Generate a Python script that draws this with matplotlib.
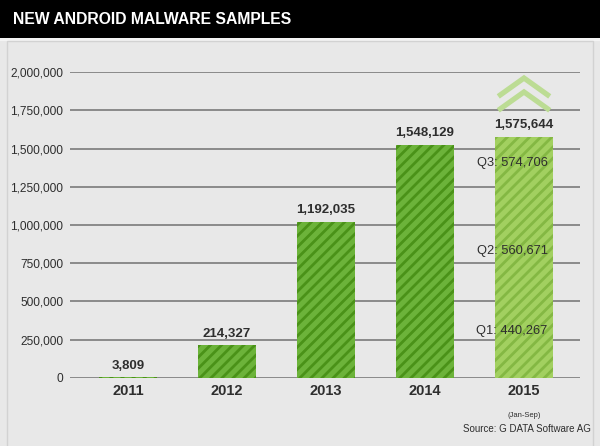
import matplotlib.pyplot as plt
from matplotlib.patches import Rectangle

plt.rcParams['font.family'] = ['Liberation Sans', 'DejaVu Sans']
plt.rcParams['hatch.linewidth'] = 2.0

# data
years = ["2011", "2012", "2013", "2014", "2015"]
totals = [3809, 214327, 1192035, 1548129, 1575644]
# bar heights as drawn in the original (2013 bar is drawn shorter than its label)
drawn = [3809, 214327, 1020000, 1525000]
quarters = ["Q1", "Q2", "Q3"]
q2015 = [440267, 560671, 574706]
yticks = [0, 250000, 500000, 750000, 1000000, 1250000, 1500000, 1750000, 2000000]

bg = "#e8e8e8"
green = "#6cb33a"
green_dark = "#4a9218"
green_light = "#a2d060"
green_light_dark = "#84b843"
chev = "#bcdc94"
txt = "#2e2e2e"

fig = plt.figure(figsize=(6, 4.46), dpi=100)
fig.patch.set_facecolor(bg)

# title bar
fig.patches.append(Rectangle((0, 0.915), 1, 0.085, transform=fig.transFigure,
                             facecolor="black", edgecolor="none"))
fig.patches.append(Rectangle((0, 0.909), 1, 0.006, transform=fig.transFigure,
                             facecolor="#f4f4f4", edgecolor="none"))
fig.patches.append(Rectangle((0.011, -0.01), 0.978, 0.919, transform=fig.transFigure,
                             facecolor="none", edgecolor="#d2d2d2", lw=1))
fig.text(0.022, 0.957, "NEW ANDROID MALWARE SAMPLES", color="white",
         fontsize=11.3, fontweight="bold", va="center", ha="left")

ax = fig.add_axes([0.1167, 0.1525, 0.85, 0.686])
ax.set_facecolor("none")
ax.set_xlim(-0.586, 4.566)
ax.set_ylim(0, 2000000)
for s in ax.spines.values():
    s.set_visible(False)

for t in yticks:
    ax.axhline(t, color="#8a8a8a", lw=1.4, zorder=1)

ax.set_yticks(yticks)
ax.set_yticklabels([f"{t:,}" for t in yticks], fontsize=8.6, color=txt)
ax.tick_params(axis="y", length=0, pad=5)
ax.set_xticks(range(len(years)))
ax.set_xticklabels(years, fontsize=10.5, fontweight="bold", color=txt)
ax.tick_params(axis="x", length=0, pad=4)

width = 0.58
x = list(range(len(drawn)))
ax.bar(x, drawn, width=width, color=green, edgecolor=green_dark, lw=0,
       hatch="///", zorder=2)

# 2015 stacked by quarter
c = len(years) - 1
bottom = 0
for q, v in zip(quarters, q2015):
    ax.bar(c, v, width=width, bottom=bottom, color=green_light,
           edgecolor=green_light_dark, lw=0, hatch="///", zorder=2)
    ax.text(c - 0.12, bottom + 0.7 * v, f"{q}: {v:,}", ha="center", va="center",
            fontsize=9.3, color=txt, zorder=4)
    bottom += v

heights = drawn + [bottom]
for i, (h, tot) in enumerate(zip(heights, totals)):
    ax.annotate(f"{tot:,}", (i, h), xytext=(0, 4), textcoords="offset points",
                ha="center", va="bottom", fontsize=9.5, fontweight="bold",
                color=txt, zorder=4)

# double chevron above the 2015 bar
top = bottom
for rise in (385000, 294000):
    ax.plot([c - 0.26, c, c + 0.26], [top + rise - 120000, top + rise, top + rise - 120000],
            color=chev, lw=3.8, solid_joinstyle="miter", solid_capstyle="butt", zorder=3)

ax.annotate("(Jan-Sep)", (c, 0), xytext=(0, -27), textcoords="offset points",
            ha="center", va="center", fontsize=5.5, color=txt)
fig.text(0.985, 0.038, "Source: G DATA Software AG", ha="right", va="center",
         fontsize=7, color=txt)

fig.savefig("out.png", dpi=100, facecolor=fig.get_facecolor())
